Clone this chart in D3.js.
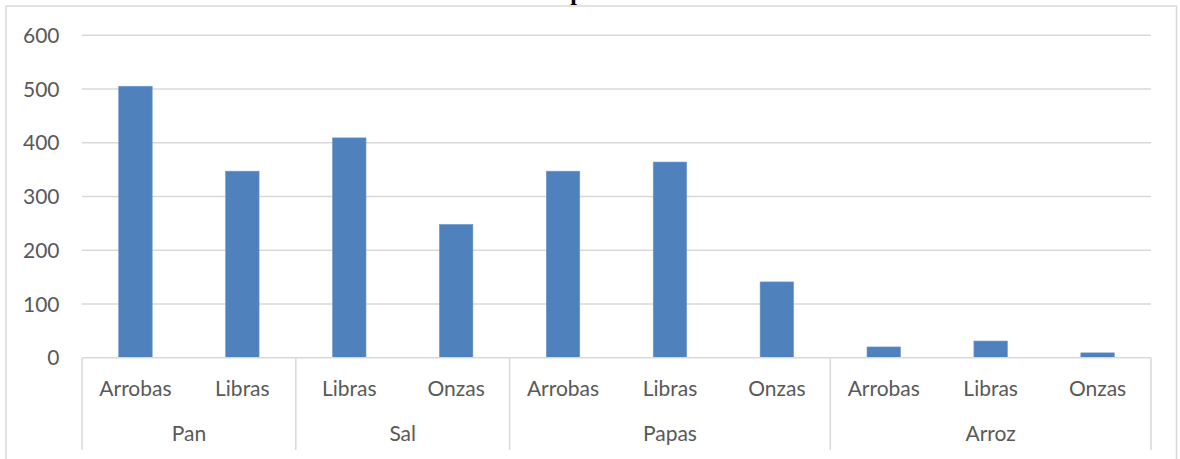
<!DOCTYPE html>
<html><head><meta charset="utf-8">
<script src="https://cdn.jsdelivr.net/npm/d3@7"></script>
<style>html,body{margin:0;padding:0;background:#fff;overflow:hidden}</style>
</head><body>
<svg id="chart" width="1180" height="459"></svg>
<script>
const groups = ["Pan", "Sal", "Papas", "Arroz"];
const units = [["Arrobas","Libras"],["Libras","Onzas"],["Arrobas","Libras","Onzas"],["Arrobas","Libras","Onzas"]];
const values = [[505, 347],[409, 248],[347, 364, 141],[20, 31, 9]];
const yTicks = [0,100,200,300,400,500,600];
const titleFragment = "p";

const svg = d3.select("#chart");
const font = "Lato, 'Open Sans', sans-serif";
const gray = "#d9d9d9";

// flatten into leaves
const leaves = [];
groups.forEach((g,gi)=>units[gi].forEach((u,ui)=>leaves.push({key:g+"|"+u, group:g, gi, unit:u, value:values[gi][ui]})));

const x = d3.scaleBand().domain(leaves.map(d=>d.key)).range([82,1151]).paddingInner(0.687).paddingOuter(0.3435);
const slot = d3.scaleBand().domain(leaves.map(d=>d.key)).range([82,1151]).padding(0);
const y = d3.scaleLinear().domain([0,600]).range([357.7,35.2]);

// outer chart border
svg.append("rect").attr("x",6).attr("y",6).attr("width",1170.5).attr("height",470)
  .attr("fill","none").attr("stroke",gray).attr("stroke-width",1.5);

// title fragment (clipped at top)
svg.append("text").attr("x",577).attr("y",-0.5).attr("text-anchor","middle")
  .attr("font-family","'Liberation Serif','Times New Roman',serif").attr("font-weight","bold")
  .attr("font-size",24).attr("fill","#000").text(titleFragment);

// gridlines
svg.append("g").selectAll("line").data(yTicks.filter(t=>t>0)).join("line")
  .attr("x1",82).attr("x2",1151).attr("y1",d=>y(d)).attr("y2",d=>y(d))
  .attr("stroke",gray).attr("stroke-width",1.5);

// y tick labels
svg.append("g").selectAll("text").data(yTicks).join("text")
  .attr("x",59.5).attr("y",d=>y(d)).attr("dy","0.36em").attr("text-anchor","end")
  .attr("font-family",font).attr("font-size",21).attr("fill","#595959").text(d=>d);

// bars
svg.append("g").selectAll("rect").data(leaves).join("rect")
  .attr("x",d=>x(d.key)).attr("width",x.bandwidth())
  .attr("y",d=>y(d.value)).attr("height",d=>y(0)-y(d.value))
  .attr("fill","#4f81bd").attr("stroke","#6f97c9").attr("stroke-width",0.6);

// category axis box
const axisY = y(0);
svg.append("line").attr("x1",82).attr("x2",1151).attr("y1",axisY).attr("y2",axisY)
  .attr("stroke",gray).attr("stroke-width",1.5);
const bounds = [];
groups.forEach((g,gi)=>{
  const ls = leaves.filter(d=>d.gi===gi);
  const x0 = slot(ls[0].key), x1 = slot(ls[ls.length-1].key)+slot.bandwidth();
  bounds.push({g, x0, x1});
});
const bx = [bounds[0].x0, ...bounds.map(b=>b.x1)];
svg.append("g").selectAll("line").data(bx).join("line")
  .attr("x1",d=>d).attr("x2",d=>d).attr("y1",axisY).attr("y2",450)
  .attr("stroke",gray).attr("stroke-width",1.5);

// leaf labels
svg.append("g").selectAll("text").data(leaves).join("text")
  .attr("x",d=>slot(d.key)+slot.bandwidth()/2).attr("y",395.5).attr("text-anchor","middle")
  .attr("font-family",font).attr("font-size",21).attr("fill","#595959").text(d=>d.unit);

// group labels
svg.append("g").selectAll("text").data(bounds).join("text")
  .attr("x",d=>(d.x0+d.x1)/2).attr("y",441).attr("text-anchor","middle")
  .attr("font-family",font).attr("font-size",21).attr("fill","#595959").text(d=>d.g);
</script>
</body></html>
